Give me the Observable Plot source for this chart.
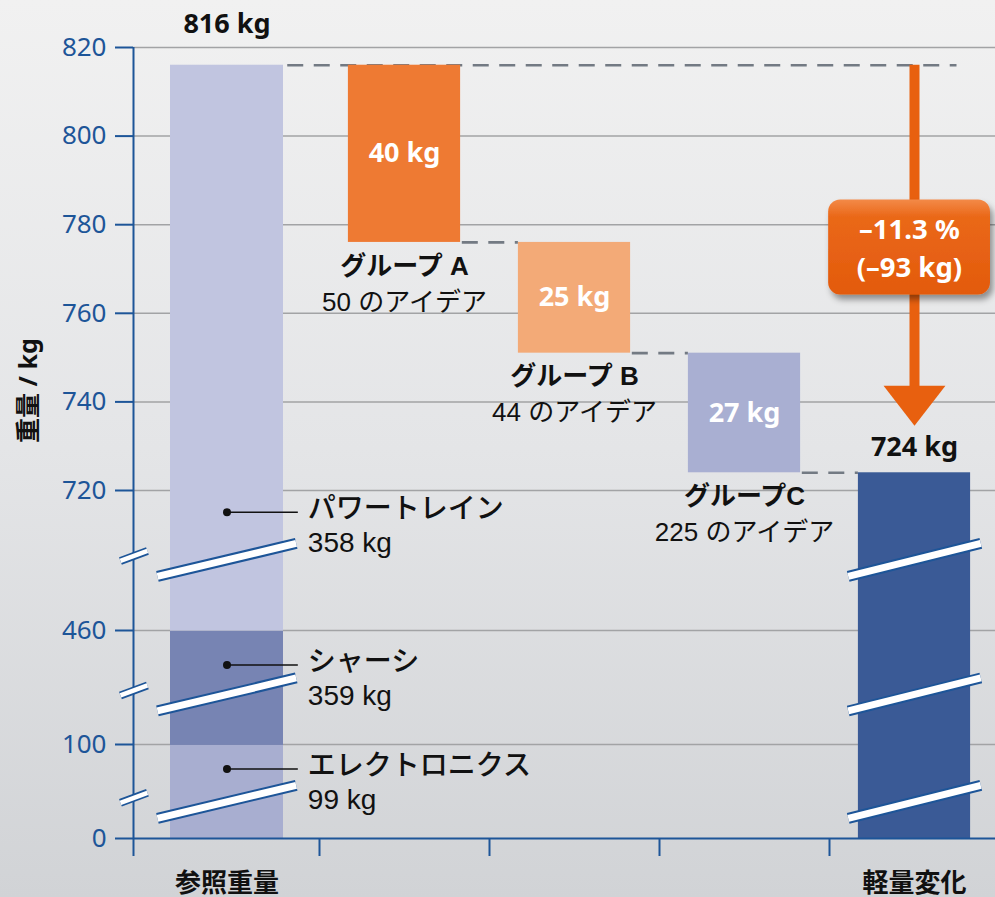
<!DOCTYPE html>
<html>
<head>
<meta charset="utf-8">
<script src="https://cdn.jsdelivr.net/npm/d3@7"></script>
<script src="https://cdn.jsdelivr.net/npm/@observablehq/plot@0.6"></script>
<style>
  html, body { margin: 0; padding: 0; }
  body {
    width: 995px; height: 897px; overflow: hidden;
    background: linear-gradient(to bottom, #f1f1f1 0%, #e4e5e7 50%, #d1d3d6 100%);
  }
  #chart svg { display: block; overflow: visible; }
</style>
</head>
<body>
<div id="chart"></div>
<script>
// ---- data ----
const partNames = ["エレクトロニクス", "シャーシ", "パワートレイン"];
const partWeights = [99, 359, 358];
const referenceTotal = 816;
const groupNames = ["グループ A", "グループ B", "グループC"];
const groupIdeas = ["50 のアイデア", "44 のアイデア", "225 のアイデア"];
const groupSavings = [40, 25, 27];
const changeText = ["–11.3 %", "(–93 kg)"];
const categoryLabels = ["参照重量", "軽量変化"];
const yTicks = [0, 100, 460, 720, 740, 760, 780, 800, 820];
const axisBreaks = [39, 258, 591];   // kg levels where the value axis is broken
const yTitle = "重量 / kg";

// ---- styles ----
const BLUE = "#1d5598";
const GRID = "#a2a3a5";
const DASH = "#737a83";
const ORANGE = "#e8600f";
const partColors = {"エレクトロニクス": "#a8aed0", "シャーシ": "#7784b3", "パワートレイン": "#c1c5e0"};
const groupColors = ["#ee7a33", "#f3aa77", "#a9afd2"];
const finalColor = "#3a5a96";
const SANS = '"Noto Sans", "Noto Sans CJK JP", sans-serif';
const JP = '"Liberation Sans", "Noto Sans CJK JP", sans-serif';

// ---- scales (piecewise: the value axis is broken twice) ----
const X_DOMAIN = [-0.5, -0.33, 0.33, 0.5, 4.5];
const X_RANGE = [133, 170, 283, 319, 999];
const Y_DOMAIN = [0, 100, 460, 720, 820];
const Y_RANGE = [838, 744, 630, 490, 47];
const yPx = d3.scaleLinear(Y_DOMAIN, Y_RANGE);
const HW = 0.33;          // bar half width (x units)
const FINAL = 4;          // position of the result bar

// reference bar, stacked by subsystem
let acc = 0;
const refParts = partNames.map((name, i) => {
  const lo = acc; acc += partWeights[i];
  return {name, weight: partWeights[i], lo, hi: acc, mid: (lo + acc) / 2};
});

// waterfall steps
let level = referenceTotal;
const steps = groupNames.map((name, i) => {
  const hi = level; level -= groupSavings[i];
  return {name, ideas: groupIdeas[i], saving: groupSavings[i], hi, lo: level,
          mid: (hi + level) / 2, pos: i + 1, color: groupColors[i]};
});
const finalTotal = level;
const finalBar = [{pos: FINAL, lo: 0, hi: finalTotal}];

// dashed level connectors
const connectors = [
  {x1: HW + 0.02, x2: FINAL + 0.25, y: referenceTotal},
  ...steps.map(s => ({x1: s.pos + HW + 0.01, x2: s.pos + 1 - HW, y: s.lo}))
];

// break slashes through the bars
const SLASH_HW = 0.39, SLASH_RISE = 16.5;
const slashPts = [];
[0, FINAL].forEach(pos => axisBreaks.forEach((b, k) => {
  const py = yPx(b);
  slashPts.push({id: pos + "-" + k, x: pos - SLASH_HW, y: yPx.invert(py + SLASH_RISE)});
  slashPts.push({id: pos + "-" + k, x: pos + SLASH_HW, y: yPx.invert(py - SLASH_RISE)});
}));
// break marks on the value axis
const axisSlashPts = [];
axisBreaks.forEach((b, k) => {
  const py = yPx(b) - 4;
  axisSlashPts.push({id: k, x: -0.56, y: yPx.invert(py + 5)});
  axisSlashPts.push({id: k, x: -0.436, y: yPx.invert(py - 5)});
});

// change arrow from the reference level down to the result
const tipPx = yPx(finalTotal) - 47;
const basePx = tipPx - 40;
const headHW = 0.182;
const arrowHead = [
  {x: FINAL - headHW, y: yPx.invert(basePx)},
  {x: FINAL + headHW, y: yPx.invert(basePx)},
  {x: FINAL, y: yPx.invert(tipPx)}
];
const boxMidPx = (yPx(referenceTotal) + tipPx) / 2 + 2;
const changeBox = [{x1: FINAL - 0.505, x2: FINAL + 0.447,
  y1: yPx.invert(boxMidPx + 47.5), y2: yPx.invert(boxMidPx - 47.5)}];
const changeLines = changeText.map((t, i) => ({
  label: t, x: FINAL - 0.03, y: yPx.invert(boxMidPx + (i === 0 ? -17 : 21))
}));

// callouts for the subsystems
const CALL = {lineEnd: 0.40, textX: 0.445};

const chart = Plot.plot({
  width: 995, height: 897,
  marginTop: 47, marginBottom: 59, marginLeft: 133, marginRight: 0,
  x: {type: "linear", domain: X_DOMAIN, range: X_RANGE},
  y: {type: "linear", domain: Y_DOMAIN, range: Y_RANGE},
  color: {type: "identity"},
  style: {background: "transparent", fontFamily: SANS, overflow: "visible"},
  marks: [
    // grid
    Plot.ruleY(yTicks.filter(d => d > 0), {x1: X_DOMAIN[0], x2: X_DOMAIN[X_DOMAIN.length - 1], stroke: GRID, strokeWidth: 1.5}),
    // connectors
    Plot.ruleY(connectors, {x1: "x1", x2: "x2", y: "y", stroke: DASH, strokeWidth: 2.6, strokeDasharray: "16,10.5"}),
    // reference bar
    Plot.rectY(refParts, {x1: -HW, x2: HW, y1: "lo", y2: "hi", fill: d => partColors[d.name]}),
    // steps
    Plot.rectY(steps, {x1: d => d.pos - HW, x2: d => d.pos + HW, y1: "lo", y2: "hi", fill: "color"}),
    // result bar
    Plot.rectY(finalBar, {x1: d => d.pos - HW, x2: d => d.pos + HW, y1: "lo", y2: "hi", fill: finalColor}),
    // break slashes
    Plot.line(slashPts, {x: "x", y: "y", z: "id", stroke: BLUE, strokeWidth: 11, strokeLinecap: "butt"}),
    Plot.line(slashPts, {x: "x", y: "y", z: "id", stroke: "white", strokeWidth: 7, strokeLinecap: "butt"}),
    // axes
    Plot.ruleX([X_DOMAIN[0]], {y1: 0, y2: 820, stroke: BLUE, strokeWidth: 2}),
    Plot.ruleY([0], {x1: X_DOMAIN[0], x2: X_DOMAIN[X_DOMAIN.length - 1], stroke: BLUE, strokeWidth: 2}),
    Plot.axisY(yTicks, {anchor: "left", tickSize: 18, tickPadding: 9, fontSize: 26, fontFamily: SANS,
      color: BLUE, strokeWidth: 2, label: null, tickFormat: d => String(d)}),
    Plot.axisX([-0.5, 0.5, 1.5, 2.5, 3.5], {anchor: "bottom", tickSize: 18, color: BLUE, strokeWidth: 2,
      label: null, tickFormat: () => ""}),
    Plot.line(axisSlashPts, {x: "x", y: "y", z: "id", stroke: BLUE, strokeWidth: 8, strokeLinecap: "butt"}),
    Plot.line(axisSlashPts, {x: "x", y: "y", z: "id", stroke: "white", strokeWidth: 4.5, strokeLinecap: "butt"}),
    // subsystem callouts
    Plot.ruleY(refParts, {x1: 0, x2: CALL.lineEnd, y: "mid", dy: -23, stroke: "#111", strokeWidth: 1.6}),
    Plot.dot(refParts, {x: 0, y: "mid", dy: -23, r: 4, fill: "#111"}),
    Plot.text(refParts, {x: CALL.textX, y: "mid", dy: -26, text: "name", textAnchor: "start",
      fontFamily: JP, fontSize: 28, fontWeight: 500, fill: "#111"}),
    Plot.text(refParts, {x: CALL.textX, y: "mid", dy: 8, text: d => `${d.weight} kg`, textAnchor: "start",
      fontFamily: JP, fontSize: 28, fill: "#111"}),
    // totals
    Plot.text([referenceTotal], {x: 0, y: d => d, dy: -41, text: d => `${d} kg`,
      fontSize: 27, fontWeight: "bold", fill: "#111"}),
    Plot.text([finalTotal], {x: FINAL, y: d => d, dy: -25, text: d => `${d} kg`,
      fontSize: 27, fontWeight: "bold", fill: "#111"}),
    // step values
    Plot.text(steps, {x: "pos", y: "mid", text: d => `${d.saving} kg`,
      fontSize: 27, fontWeight: "bold", fill: "white"}),
    // group labels
    Plot.text(steps, {x: "pos", y: "lo", dy: 24, text: "name", fontFamily: JP, fontSize: 26, fontWeight: "bold", fill: "#111"}),
    Plot.text(steps, {x: "pos", y: "lo", dy: 60, text: "ideas", fontFamily: JP, fontSize: 26, fill: "#111"}),
    // change arrow
    Plot.ruleX([FINAL], {y1: referenceTotal, y2: yPx.invert(basePx + 1), stroke: ORANGE, strokeWidth: 10}),
    Plot.line(arrowHead, {x: "x", y: "y", fill: ORANGE, stroke: "none"}),
    Plot.rect(changeBox, {x1: "x1", x2: "x2", y1: "y1", y2: "y2", rx: 12, ry: 12, fill: ORANGE, ariaDescription: "change-box"}),
    Plot.text(changeLines, {x: "x", y: "y", text: "label", fontSize: 27.5, fontWeight: "bold", fill: "white"}),
    // category labels
    Plot.text(categoryLabels, {x: (d, i) => i === 0 ? 0 : FINAL, y: 0, dy: 45, text: d => d,
      fontFamily: JP, fontSize: 26, fontWeight: "bold", fill: "#111"}),
    // value axis title
    Plot.text([yTitle], {frameAnchor: "left", dx: -105, rotate: -90, text: d => d,
      fontFamily: SANS, fontSize: 25, fontWeight: "bold", fill: "#111"})
  ]
});

// gradient and drop shadow for the change badge
const svg = d3.select(chart);
const defs = svg.insert("defs", ":first-child");
const grad = defs.append("linearGradient").attr("id", "changeFill")
  .attr("x1", 0).attr("y1", 0).attr("x2", 0).attr("y2", 1);
grad.append("stop").attr("offset", "0%").attr("stop-color", "#f38a48");
grad.append("stop").attr("offset", "18%").attr("stop-color", "#ea6819");
grad.append("stop").attr("offset", "100%").attr("stop-color", "#e35a0c");
const shadow = defs.append("filter").attr("id", "changeShadow")
  .attr("x", "-20%").attr("y", "-20%").attr("width", "150%").attr("height", "160%");
shadow.append("feDropShadow").attr("dx", 3).attr("dy", 5).attr("stdDeviation", 3)
  .attr("flood-color", "#000").attr("flood-opacity", 0.4);
svg.selectAll("rect").filter(function () { return this.getAttribute("rx") != null; })
  .attr("fill", "url(#changeFill)").attr("filter", "url(#changeShadow)");

document.getElementById("chart").appendChild(chart);
</script>
</body>
</html>
